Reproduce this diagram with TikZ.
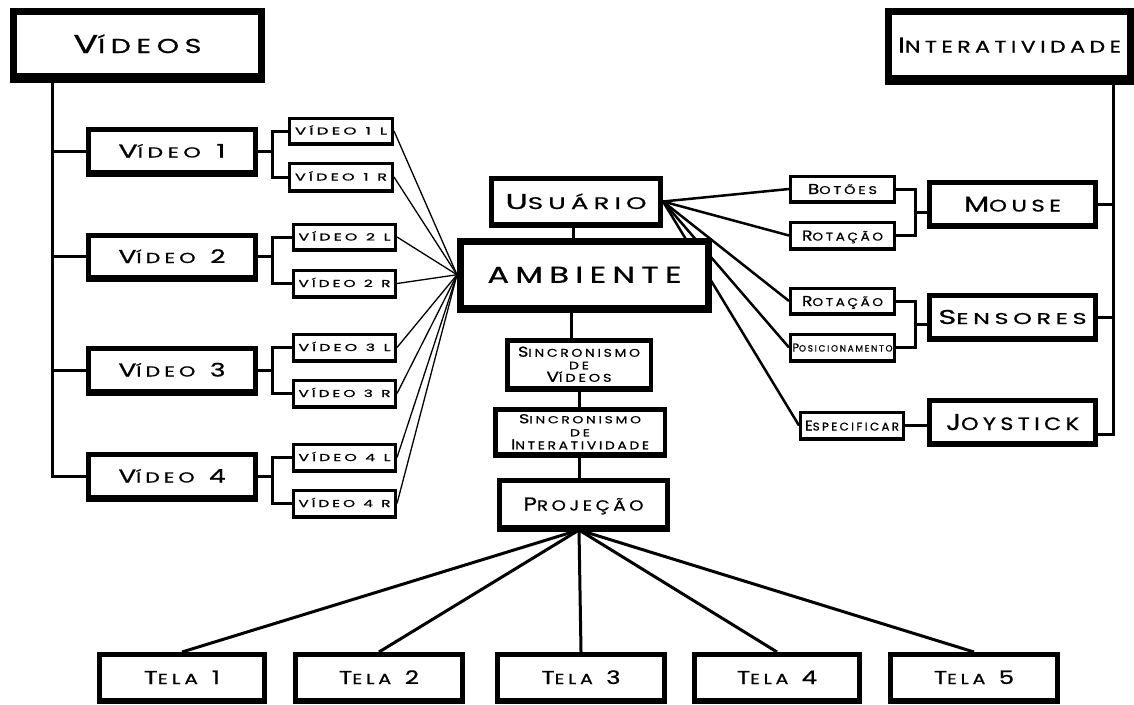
\documentclass[tikz,border=0pt]{standalone}
\usepackage{fontspec}
\usepackage{graphicx}
\usetikzlibrary{calc}
\newfontfamily\gf[LetterSpace=20,FakeBold=0.8]{Poppins}
\newcommand\mySC[2]{#1\scalebox{0.78}{#2}}
\newcommand\gap{\hspace{0.55em}}
\newcommand\lab[3]{\resizebox{#1pt}{#2pt}{\gf\raisebox{0pt}[\fontcharht\font`X][0pt]{#3}}}
\pgfdeclarelayer{bg}\pgfsetlayers{bg,main}
% \bx[opts]{name}{x1}{y1}{x2}{y2}{lw}{extra bottom}{text}
\newcommand\bx[9][]{%
  \pgfmathsetmacro\bxw{#5-#3-#7}%
  \pgfmathsetmacro\bxh{#6-#8-#4-#7}%
  \pgfmathsetmacro\bxcx{(#3+#5)/2}%
  \pgfmathsetmacro\bxcy{(#4+#6-#8)/2}%
  \fill (#3,{#6-#8-1}) rectangle (#5,#6);
  \node[box,#1,line width=#7pt,minimum width=\bxw pt,minimum height=\bxh pt] (#2) at (\bxcx,\bxcy) {#9};}
\tikzset{
  box/.style={draw=black, fill=white, inner sep=0pt, text depth=0pt, align=center},
  thk/.style={line width=3pt},
  thn/.style={line width=1.3pt},
  mdl/.style={line width=2.5pt},
}
\begin{document}
\begin{tikzpicture}[x=1pt,y=-1pt]
\useasboundingbox (0,0) rectangle (1134,704);
% left tree
\bx{vid}{10}{8}{265}{83}{7}{3}{\lab{128}{18}{\mySC{V}{ÍDEOS}}}
\bx{v1}{86}{127}{258}{177}{5}{2}{\lab{107}{13}{\mySC{V}{ÍDEO}\gap 1}}
\bx{v2}{86}{233}{258}{282}{5}{2}{\lab{107}{13}{\mySC{V}{ÍDEO}\gap 2}}
\bx{v3}{86}{346}{258}{396}{5}{2}{\lab{107}{13}{\mySC{V}{ÍDEO}\gap 3}}
\bx{v4}{86}{452}{258}{502}{5}{2}{\lab{107}{13}{\mySC{V}{ÍDEO}\gap 4}}
\bx{v1-L}{288}{117}{394}{146}{3}{1}{\lab{92}{7}{VÍDEO\gap 1\gap L}}
\bx{v1-R}{288}{162}{394}{193}{3}{1}{\lab{92}{7}{VÍDEO\gap 1\gap R}}
\bx{v2-L}{292}{223}{397}{252}{3}{1}{\lab{92}{7}{VÍDEO\gap 2\gap L}}
\bx{v2-R}{292}{269}{397}{299}{3}{1}{\lab{92}{7}{VÍDEO\gap 2\gap R}}
\bx{v3-L}{292}{333}{397}{363}{3}{1}{\lab{92}{7}{VÍDEO\gap 3\gap L}}
\bx{v3-R}{292}{379}{397}{409}{3}{1}{\lab{92}{7}{VÍDEO\gap 3\gap R}}
\bx{v4-L}{292}{443}{397}{473}{3}{1}{\lab{92}{7}{VÍDEO\gap 4\gap L}}
\bx{v4-R}{292}{489}{397}{519}{3}{1}{\lab{92}{7}{VÍDEO\gap 4\gap R}}
% centre
\bx{usu}{489}{176}{663}{228}{5}{1}{\lab{141}{15}{\mySC{U}{SUÁRIO}}}
\bx{amb}{457}{238}{712}{313}{7}{1.5}{\lab{194}{16}{AMBIENTE}}
\bx[font=\fontsize{10}{12.5}\selectfont]{sv}{505}{338}{653}{392}{4.5}{1.5}{\lab{122}{10}{\mySC{S}{INCRONISMO}}\\\lab{20}{7.5}{DE}\\\lab{65}{10}{\mySC{V}{ÍDEOS}}}
\bx[font=\fontsize{10}{13}\selectfont]{si}{493}{407}{667}{458}{4.5}{1.5}{\lab{122}{9}{\mySC{S}{INCRONISMO}}\\\lab{20}{7}{DE}\\\lab{138}{10}{\mySC{I}{NTERATIVIDADE}}}
\bx{proj}{497}{478}{670}{532}{5}{2}{\lab{120}{13}{\mySC{P}{ROJEÇÃO}}}
% screens
\bx{t1}{97}{652}{267}{704}{5}{1}{\lab{76}{13}{\mySC{T}{ELA}\gap 1}}
\bx{t2}{293}{652}{465}{704}{5}{1}{\lab{80}{13}{\mySC{T}{ELA}\gap 2}}
\bx{t3}{495}{652}{667}{704}{5}{1}{\lab{79}{13}{\mySC{T}{ELA}\gap 3}}
\bx{t4}{692}{652}{862}{704}{5}{1}{\lab{80}{13}{\mySC{T}{ELA}\gap 4}}
\bx{t5}{888}{652}{1060}{704}{5}{1}{\lab{80}{13}{\mySC{T}{ELA}\gap 5}}
% right tree
\bx{inter}{885}{8}{1134}{85}{7}{3}{\lab{223}{15}{\mySC{I}{NTERATIVIDADE}}}
\bx{bot}{789}{175}{896}{204}{3.3}{1}{\lab{69}{10}{\mySC{B}{OTÕES}}}
\bx{rot1}{789}{221}{896}{251}{3.3}{1}{\lab{81}{10}{\mySC{R}{OTAÇÃO}}}
\bx{mouse}{927}{180}{1098}{229}{5}{1}{\lab{97}{15}{\mySC{M}{OUSE}}}
\bx{rot2}{789}{287}{896}{316}{3.3}{1}{\lab{81}{10}{\mySC{R}{OTAÇÃO}}}
\bx{pos}{789}{333}{896}{363}{3.3}{1}{\lab{100}{8}{\mySC{P}{OSICIONAMENTO}}}
\bx{sens}{927}{293}{1098}{342}{5}{1}{\lab{148}{14}{\mySC{S}{ENSORES}}}
\bx{esp}{799}{411}{905}{441}{3.3}{1}{\lab{94}{10}{\mySC{E}{SPECIFICAR}}}
\bx{joy}{927}{398}{1098}{447}{5}{1}{\lab{133}{16}{\mySC{J}{OYSTICK}}}
% connectors
\begin{pgfonlayer}{bg}
\coordinate (lx) at (52,0);
\coordinate (ex) at (272,0);
\coordinate (rx) at (1113,0);
\coordinate (mx) at (915,0);
\coordinate (cx) at (571,0);
\coordinate (ux) at (573,0);
\coordinate (px) at (579,0);
\draw[thk] (vid.south -| lx) -- (v4.west -| lx) -- (v4.west);
\foreach \v in {v1,v2,v3} \draw[thk] (\v.west -| lx) -- (\v.west);
\foreach \v in {v1,v2,v3,v4} {
  \draw[thk] (\v.east) -- (\v.east -| ex);
  \draw[thk] (\v-L.west) -- (\v-L.west -| ex) -- (\v-R.west -| ex) -- (\v-R.west);
}
\foreach \s in {v1-L,v1-R,v2-L,v2-R,v3-L,v3-R,v4-L,v4-R} \draw[thn] (\s.east) -- (amb.west);
\draw[thk] (usu.south -| ux) -- (amb.north -| ux);
\draw[thk] (amb.south -| cx) -- (sv.north -| cx);
\draw[thk] (sv.south -| px) -- (si.north -| px);
\draw[thk] (si.south -| px) -- (proj.north -| px);
\coordinate (pb) at (proj.south -| px);
\foreach \t in {t1,t2,t3,t4,t5} \draw[thk] (pb) -- (\t.north);
\foreach \r in {bot,rot1,rot2,pos,esp} \draw[mdl] (usu.east) -- (\r.west);
\draw[thk] (bot.east) -- (bot.east -| mx) -- (rot1.east -| mx) -- (rot1.east);
\path ($(bot.east -| mx)!.5!(rot1.east -| mx)$) coordinate (mj);
\draw[thk] (mj) -- (mj -| mouse.west);
\draw[thk] (rot2.east) -- (rot2.east -| mx) -- (pos.east -| mx) -- (pos.east);
\path ($(rot2.east -| mx)!.5!(pos.east -| mx)$) coordinate (sj);
\draw[thk] (sj) -- (sj -| sens.west);
\draw[thk] (esp.east) -- (esp.east -| joy.west);
\coordinate (jc) at ([yshift=-12pt]joy.east);
\draw[thk] (inter.south -| rx) -- (jc -| rx) -- (jc);
\draw[thk] (mouse.east) -- (mouse.east -| rx);
\draw[thk] (sens.east) -- (sens.east -| rx);
\end{pgfonlayer}
\end{tikzpicture}
\end{document}
